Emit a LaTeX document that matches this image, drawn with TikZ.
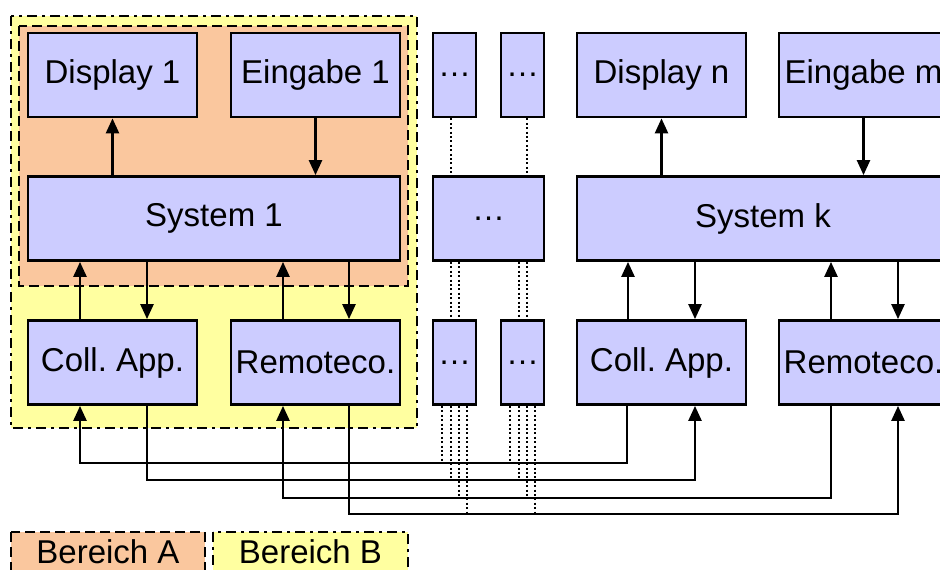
\documentclass[tikz,border=0pt]{standalone}
\usepackage{fontspec}
\setmainfont{Liberation Sans}
\usetikzlibrary{arrows.meta,calc}
\definecolor{boxfill}{RGB}{204,204,255}
\definecolor{areaA}{RGB}{250,199,158}
\definecolor{areaB}{RGB}{255,255,160}
\begin{document}
\frenchspacing
\begin{tikzpicture}[x=1pt,y=-1pt,
  box/.style={draw=black,line width=2.8pt,fill=boxfill,minimum width=169pt,minimum height=84pt,inner sep=0pt,font=\fontsize{33}{40}\selectfont},
  narrow/.style={box,minimum width=43pt},
  wide/.style={box,minimum width=372pt},
  mid/.style={box,minimum width=111pt},
  arr/.style={line width=2.5pt,-{Triangle[width=13pt,length=15pt]}},
  dotline/.style={line width=2pt,dash pattern=on 2pt off 2.4pt},
  dashA/.style={line width=2.8pt,dash pattern=on 10pt off 5pt},
  dashB/.style={line width=2.8pt,dash pattern=on 10pt off 5pt on 3pt off 5pt},
  legend/.style={inner sep=0pt,font=\fontsize{33}{40}\selectfont}
]
\useasboundingbox (0,0) rectangle (940,570);
\clip (0,0) rectangle (940,570);
\fill[white] (0,0) rectangle (940,570);

% areas
\draw[dashB,fill=areaB] (11,16) rectangle (417,428);
\draw[dashA,fill=areaA] (19,26) rectangle (408,286);

% boxes, left group
\node[box]  (d1) at (112.5,75)  {Display 1};
\node[box]  (e1) at (315.5,75)  {Eingabe 1};
\node[wide] (s1) at (214,218.5) {System 1};
\node[box]  (c1) at (112.5,362.5) {Coll. App.};
\node[box]  (r1) at (315.5,362.5) {Remoteco.};

% placeholder boxes
\node[narrow] (t1) at (454.5,75) {…};
\node[narrow] (t2) at (522.5,75) {…};
\node[mid]    (sm) at (488.5,218.5) {…};
\node[narrow] (b1) at (454.5,362.5) {…};
\node[narrow] (b2) at (522.5,362.5) {…};

% boxes, right group
\node[box]  (dn) at (661.5,75)  {Display n};
\node[box]  (en) at (863.5,75)  {Eingabe m};
\node[wide] (sk) at (763,218.5) {System k};
\node[box]  (cn) at (661.5,362.5) {Coll. App.};
\node[box]  (rn) at (863.5,362.5) {Remoteco.};

% levels of the bus lines
\coordinate (y1) at (0,463);
\coordinate (y2) at (0,480);
\coordinate (y3) at (0,498);
\coordinate (y4) at (0,514);

% dotted placeholders
\foreach \b/\s in {t1/-4,t2/4}{
  \draw[dotline] ([xshift=\s pt]\b.south) -- ([xshift=\s pt]\b.south |- sm.north);
}
\foreach \b in {b1,b2}{
  \foreach \s in {-4,4}{
    \draw[dotline] ([xshift=\s pt]\b.north |- sm.south) -- ([xshift=\s pt]\b.north);
  }
  \draw[dotline] ([xshift=-12.5pt]\b.south) -- ([xshift=-12.5pt]\b.south |- y1);
  \draw[dotline] ([xshift=-4pt]\b.south) -- ([xshift=-4pt]\b.south |- y2);
  \draw[dotline] ([xshift=4pt]\b.south) -- ([xshift=4pt]\b.south |- y3);
  \draw[dotline] ([xshift=12.5pt]\b.south) -- ([xshift=12.5pt]\b.south |- y4);
}

% vertical arrows, left group
\draw[arr] (s1.north -| d1.south) -- (d1.south);
\draw[arr] (e1.south) -- (e1.south |- s1.north);
\draw[arr] ([xshift=-32.5pt]c1.north) -- ([xshift=-32.5pt]c1.north |- s1.south);
\draw[arr] ([xshift=34.5pt]c1.north |- s1.south) -- ([xshift=34.5pt]c1.north);
\draw[arr] ([xshift=-32.5pt]r1.north) -- ([xshift=-32.5pt]r1.north |- s1.south);
\draw[arr] ([xshift=33.5pt]r1.north |- s1.south) -- ([xshift=33.5pt]r1.north);

% vertical arrows, right group
\draw[arr] (sk.north -| dn.south) -- (dn.south);
\draw[arr] (en.south) -- (en.south |- sk.north);
\draw[arr] ([xshift=-33.5pt]cn.north) -- ([xshift=-33.5pt]cn.north |- sk.south);
\draw[arr] ([xshift=33.5pt]cn.north |- sk.south) -- ([xshift=33.5pt]cn.north);
\draw[arr] ([xshift=-32.5pt]rn.north) -- ([xshift=-32.5pt]rn.north |- sk.south);
\draw[arr] ([xshift=34.5pt]rn.north |- sk.south) -- ([xshift=34.5pt]rn.north);

% bus lines
\draw[arr] ([xshift=-34.5pt]cn.south) |- ([xshift=-32.5pt]c1.south |- y1) -- ([xshift=-32.5pt]c1.south);
\draw[arr] ([xshift=34.5pt]c1.south) |- ([xshift=33.5pt]cn.south |- y2) -- ([xshift=33.5pt]cn.south);
\draw[arr] ([xshift=-32.5pt]rn.south) |- ([xshift=-32.5pt]r1.south |- y3) -- ([xshift=-32.5pt]r1.south);
\draw[arr] ([xshift=33.5pt]r1.south) |- ([xshift=34.5pt]rn.south |- y4) -- ([xshift=34.5pt]rn.south);

% legend
\draw[dashA,fill=areaA] (11,532) rectangle (205,590);
\draw[dashB,fill=areaB] (213,532) rectangle (408,590);
\node[legend] (la) at (108,552) {Bereich A};
\node[legend] (lb) at (310.5,552) {Bereich B};
\end{tikzpicture}
\end{document}
